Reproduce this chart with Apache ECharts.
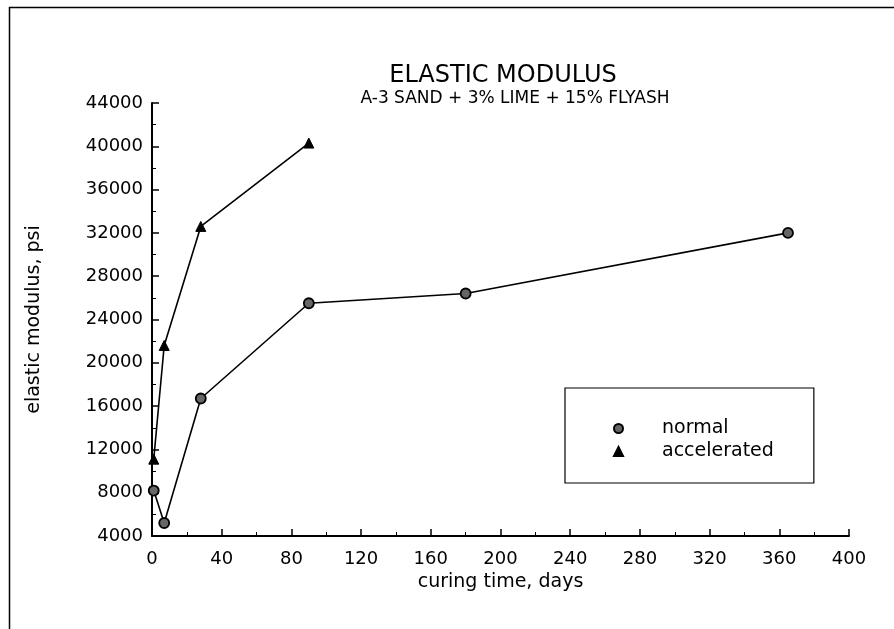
<!DOCTYPE html>
<html>
<head>
<meta charset="utf-8">
<script src="https://cdn.jsdelivr.net/npm/echarts@6/dist/echarts.min.js"></script>
<style>
  html, body { margin: 0; padding: 0; background: #fff; }
  #main { width: 894px; height: 629px; }
</style>
</head>
<body>
<div id="main"></div>
<script>
var myChart = echarts.init(document.getElementById('main'));

// curing time (days) and elastic modulus (psi)
var normalDays = [1, 7, 28, 90, 180, 365];
var normalPsi = [8200, 5200, 16700, 25500, 26400, 32000];
var accelDays = [1, 7, 28, 90];
var accelPsi = [11100, 21600, 32600, 40300];

var font = 'DejaVu Sans';

function pairs(xs, ys) {
    var out = [];
    for (var i = 0; i < xs.length; i++) {
        out.push([xs[i], ys[i]]);
    }
    return out;
}

// plain numbers, no thousands separators
function plain(v) {
    return String(v);
}

var option = {
    backgroundColor: '#fff',
    animation: false,
    title: [
        {
            text: 'ELASTIC MODULUS',
            left: 498, top: 59, textAlign: 'center',
            textStyle: { fontFamily: font, fontSize: 24, fontWeight: 'normal', color: '#000' }
        },
        {
            text: 'A-3 SAND + 3% LIME + 15% FLYASH',
            left: 510, top: 85, textAlign: 'center',
            textStyle: { fontFamily: font, fontSize: 17, fontWeight: 'normal', color: '#000' }
        }
    ],
    graphic: [
        {
            type: 'rect',
            shape: { x: 9.5, y: 7.5, width: 900, height: 640 },
            style: { fill: 'none', stroke: '#000', lineWidth: 1.5 }
        }
    ],
    legend: {
        orient: 'vertical',
        left: 565, top: 388,
        borderColor: '#000', borderWidth: 1.2,
        padding: [31, 40, 22, 48],
        itemGap: 4,
        itemWidth: 9, itemHeight: 9,
        textStyle: { fontFamily: font, fontSize: 19, color: '#000', padding: [0, 0, 0, 34] },
        data: [
            { name: 'normal', icon: 'circle' },
            { name: 'accelerated', icon: 'triangle' }
        ]
    },
    grid: { left: 152, right: 45, top: 103, bottom: 93 },
    xAxis: {
        type: 'value',
        min: 0, max: 400, interval: 40,
        name: 'curing time, days',
        nameLocation: 'middle',
        nameGap: 37,
        nameTextStyle: { fontFamily: font, fontSize: 19, color: '#000' },
        axisLine: { lineStyle: { color: '#000', width: 2 } },
        axisTick: { inside: true, length: 7, lineStyle: { color: '#000', width: 1.5 } },
        minorTick: { show: true, splitNumber: 2, length: 4, lineStyle: { color: '#000' } },
        splitLine: { show: false },
        axisLabel: { fontFamily: font, fontSize: 18, color: '#000', margin: 14, formatter: plain }
    },
    yAxis: {
        type: 'value',
        min: 4000, max: 44000, interval: 4000,
        name: 'elastic modulus, psi',
        nameLocation: 'middle',
        nameGap: 108,
        nameTextStyle: { fontFamily: font, fontSize: 19, color: '#000' },
        axisLine: { show: true, lineStyle: { color: '#000', width: 2 } },
        axisTick: { show: true, inside: true, length: 7, lineStyle: { color: '#000', width: 1.5 } },
        minorTick: { show: true, splitNumber: 2, length: 4, lineStyle: { color: '#000' } },
        splitLine: { show: false },
        axisLabel: { fontFamily: font, fontSize: 18, color: '#000', margin: 9, formatter: plain }
    },
    series: [
        {
            name: 'normal',
            type: 'line',
            data: pairs(normalDays, normalPsi),
            symbol: 'circle',
            symbolSize: 10,
            itemStyle: { color: '#666', borderColor: '#000', borderWidth: 1.8 },
            lineStyle: { color: '#000', width: 1.6 }
        },
        {
            name: 'accelerated',
            type: 'line',
            data: pairs(accelDays, accelPsi),
            symbol: 'triangle',
            symbolSize: 10,
            itemStyle: { color: '#000', borderColor: '#000', borderWidth: 1 },
            lineStyle: { color: '#000', width: 1.6 }
        }
    ]
};

myChart.setOption(option);
</script>
</body>
</html>
